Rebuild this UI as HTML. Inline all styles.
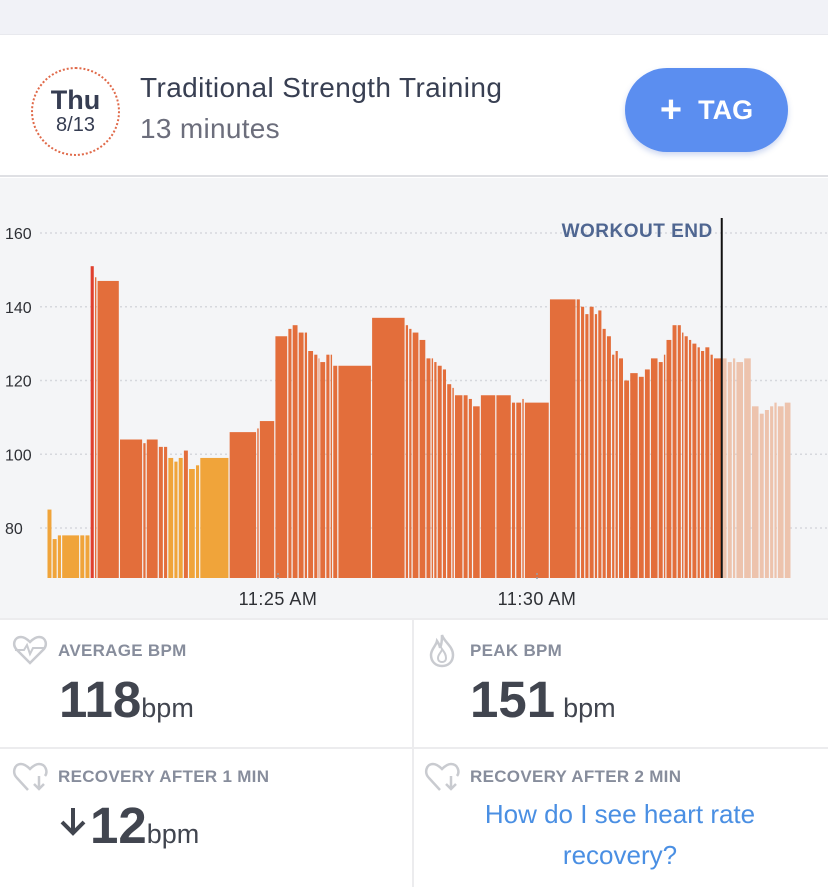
<!DOCTYPE html>
<html><head><meta charset="utf-8">
<style>
*{margin:0;padding:0;box-sizing:border-box}
body{width:828px;height:885px;overflow:hidden;background:#fff;font-family:"Liberation Sans",Arial,sans-serif;position:relative}
.abs{position:absolute}
.lbl{position:absolute;font-size:17px;font-weight:bold;color:#878d9c;letter-spacing:0.3px}
.big{position:absolute;font-size:51px;font-weight:bold;color:#41454f;line-height:1}
.unit{font-size:27px;font-weight:normal;color:#41454f}
</style></head>
<body>
<div class="abs" style="left:0;top:0;width:828px;height:35px;background:#f1f2f7;border-bottom:1px solid #e8e9ee"></div>
<div class="abs" style="left:0;top:36px;width:828px;height:141px;background:#fff;border-bottom:2px solid #dfe0e4">
  <div class="abs" style="left:31px;top:31px;width:89px;height:89px;border-radius:50%;border:2px dotted #e06a4a;text-align:center">
    <div style="margin-top:17px;font-size:27px;font-weight:bold;color:#363d52;line-height:28px">Thu</div>
    <div style="font-size:20px;color:#363d52;line-height:22px">8/13</div>
  </div>
  <div class="abs" style="left:140px;top:36px;font-size:28px;letter-spacing:0.4px;color:#383f52">Traditional Strength Training</div>
  <div class="abs" style="left:140px;top:77px;font-size:28px;letter-spacing:0.3px;color:#6c6e7c">13 minutes</div>
  <div class="abs" style="left:625px;top:32px;width:163px;height:84px;border-radius:42px;background:#5b8ef0;color:#fff;font-size:27px;font-weight:bold;line-height:84px;text-align:center;box-shadow:0 3px 6px rgba(60,100,200,0.25)"><span style="font-size:38px;vertical-align:-3px;margin-right:16px">+</span>TAG</div>
</div>

<svg class="abs" style="left:0;top:178px" width="828" height="441">
  <rect x="0" y="0" width="828" height="441" fill="#f4f5f7"/>
  <g id="grid"></g>
  <g id="bars"></g>
  <g id="xaxis"></g>
  <line id="endline" y1="40" y2="400" stroke="#111" stroke-width="2"/>
  <text id="endlabel" y="59" text-anchor="end" font-size="19" font-weight="bold" letter-spacing="0.5" fill="#4f6691" font-family="Liberation Sans, Arial, sans-serif">WORKOUT END</text>
</svg>

<div class="abs" style="left:0;top:618px;width:828px;height:267px;background:#fff;border-top:2px solid #ececee">
  <div class="abs" style="left:412px;top:0;width:2px;height:267px;background:#ececee"></div>
  <div class="abs" style="left:0;top:127px;width:828px;height:2px;background:#ececee"></div>
</div>

<svg class="abs" style="left:12px;top:634px" width="36" height="32" viewBox="0 0 36 32"><path d="M18 29 L5 16 C0 11 2 3 9 3 C13 3 16 6 18 8 C20 6 23 3 27 3 C34 3 36 11 31 16 Z" fill="none" stroke="#c9cbd0" stroke-width="2.5"/><path d="M3 16 H12 L15 11 L18 20 L21 14 H33" fill="none" stroke="#c9cbd0" stroke-width="2"/></svg>
<div class="lbl" style="left:58px;top:641px">AVERAGE BPM</div>
<div class="big" style="left:59px;top:674px">118<span class="unit">bpm</span></div>

<svg class="abs" style="left:428px;top:632px" width="28" height="36" viewBox="0 0 28 36"><path d="M14 3 C16 10 25 14 25 23 C25 30 20 34 14 34 C8 34 3 30 3 23 C3 17 8 14 9 9 C11 12 12 14 12 16 C14 12 14 7 14 3 Z" fill="none" stroke="#c9cbd0" stroke-width="2.5"/><path d="M10 26 C10 22 14 20 14 17 C16 20 18 22 18 26 C18 29 16 30 14 30 C12 30 10 29 10 26Z" fill="none" stroke="#c9cbd0" stroke-width="2"/></svg>
<div class="lbl" style="left:470px;top:641px">PEAK BPM</div>
<div class="big" style="left:470px;top:674px">151<span class="unit" style="margin-left:8px">bpm</span></div>

<svg class="abs" style="left:12px;top:760px" width="38" height="34" viewBox="0 0 38 34"><path d="M16 30 L5 18 C0 13 2 4 9 4 C13 4 16 7 18 9 C20 7 23 4 27 4 C34 4 36 12 33 16" fill="none" stroke="#c9cbd0" stroke-width="2.5"/><path d="M27 16 V29 M22 24 L27 29 L32 24" fill="none" stroke="#c9cbd0" stroke-width="2.5"/></svg>
<div class="lbl" style="left:58px;top:767px">RECOVERY AFTER 1 MIN</div>
<svg class="abs" style="left:59px;top:806px" width="28" height="30" viewBox="0 0 28 30"><path d="M14 2 V27 M3 16 L14 27 L25 16" fill="none" stroke="#41454f" stroke-width="4"/></svg>
<div class="big" style="left:90px;top:800px">12<span class="unit">bpm</span></div>

<svg class="abs" style="left:424px;top:760px" width="38" height="34" viewBox="0 0 38 34"><path d="M16 30 L5 18 C0 13 2 4 9 4 C13 4 16 7 18 9 C20 7 23 4 27 4 C34 4 36 12 33 16" fill="none" stroke="#c9cbd0" stroke-width="2.5"/><path d="M27 16 V29 M22 24 L27 29 L32 24" fill="none" stroke="#c9cbd0" stroke-width="2.5"/></svg>
<div class="lbl" style="left:470px;top:767px">RECOVERY AFTER 2 MIN</div>
<div class="abs" style="left:414px;top:794px;width:412px;text-align:center;font-size:26px;line-height:41px;color:#4a8fe3">How do I see heart rate<br>recovery?</div>

<script>
// time in seconds after 11:20:00, bpm values
const startTimes=[33,39,45,50,71,77,83,88,91,117,144,148,162,168,173,180,185,191,197,205,210,244,276,279,297,312,317,324,331,335,342,347,349,356,361,364,370,409,448,452,456,464,472,478,481,485,491,496,502,505,515,521,526,535,553,571,576,583,586,615,646,651,656,661,667,671,676,681,687,691,695,701,708,718,725,732,741,747,750,757,763,768,771,776,780,786,790,795,801,805,815,821,827,831,840,849,858,864,870,875,879,887];
const endTime=895;
const bpmValues=[85,77,78,78,78,78,151,148,147,104,103,104,102,102,99,98,99,101,96,97,99,106,107,109,132,134,135,133,133,128,127,126,125,127,127,124,124,137,135,134,133,131,126,126,125,124,123,119,118,116,116,115,113,116,116,114,114,115,114,142,142,140,138,140,138,139,134,132,127,128,126,120,122,121,123,126,125,127,131,135,135,133,132,131,130,129,128,129,127,126,126,125,126,125,126,113,111,112,113,114,113,114];
const workoutEnd=814;
const yTicks=[80,100,120,140,160];
const xTicks=[300,600];
const xTickLabels=["11:25 AM","11:30 AM"];

const NS="http://www.w3.org/2000/svg";
const xs=t=>278+(t-300)*(51.8/60);
const ys=v=>350-(v-80)*3.6875;
const baseY=400;
function mk(tag,attrs,parent){const e=document.createElementNS(NS,tag);for(const k in attrs)e.setAttribute(k,attrs[k]);parent.appendChild(e);return e;}
const grid=document.getElementById('grid'),bars=document.getElementById('bars'),xa=document.getElementById('xaxis');
yTicks.forEach(v=>{
  const l=mk('line',{x1:40,x2:828,y1:ys(v),y2:ys(v),stroke:'#d6d8dd','stroke-width':1.5,'stroke-dasharray':'2 3'},grid);
  
  
  const t=mk('text',{x:5,y:ys(v)+6,'font-size':16,fill:'#2e3035','font-family':'Liberation Sans, Arial, sans-serif'},grid);
  t.textContent=v;
  
  
});
startTimes.forEach((t,i)=>{
  const next=i<startTimes.length-1?startTimes[i+1]:endTime;
  const v=bpmValues[i];
  const x0=xs(t),x1=xs(next);
  let col=v>=150?'#e0402e':(v<100?'#f0a43a':'#e36e3b');
  if(t>=workoutEnd) col='#edc3ad';
  const r=mk('rect',{x:x0,y:ys(v),width:Math.max(0.8,x1-x0-1.2),height:baseY-ys(v),fill:col},bars);
  
  
});
xTicks.forEach((t,i)=>{
  const x=xs(t);
  const tk=mk('line',{x1:x,x2:x,y1:395,y2:403,stroke:'#9a9ca3','stroke-width':1.5,'stroke-dasharray':'2 2'},xa);
  
  
  const tx=mk('text',{x:x,y:427,'text-anchor':'middle','font-size':18,'letter-spacing':0.5,fill:'#2e3035','font-family':'Liberation Sans, Arial, sans-serif'},xa);
  tx.textContent=xTickLabels[i];
  
  
});
const ex=xs(workoutEnd);
const el=document.getElementById('endline');el.setAttribute('x1',ex);el.setAttribute('x2',ex);
document.getElementById('endlabel').setAttribute('x',ex-9);
</script>
</body></html>
